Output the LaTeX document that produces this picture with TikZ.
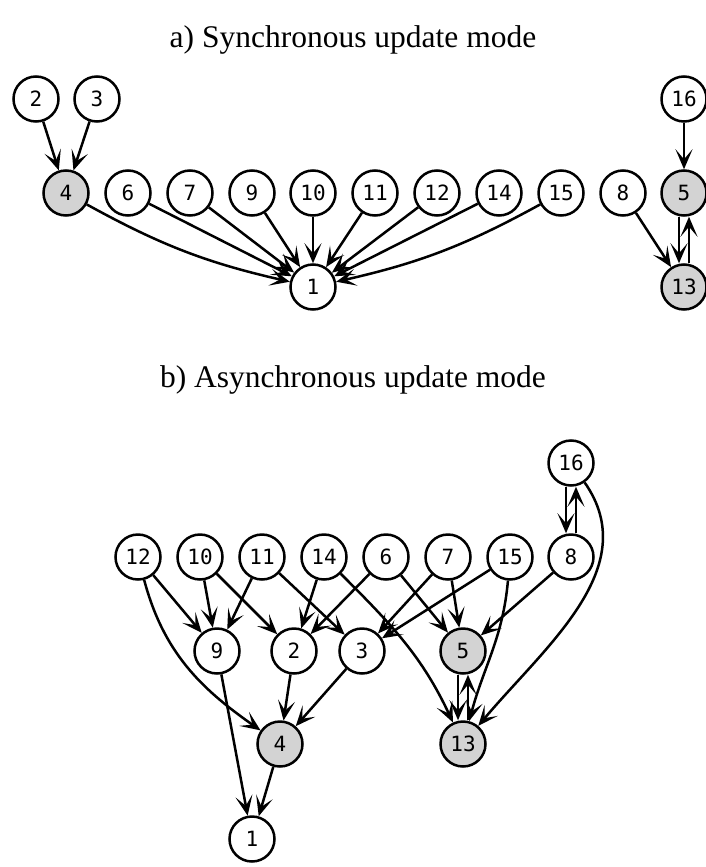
\documentclass[tikz,border=0pt]{standalone}
\usepackage{fontspec}
\setmainfont{Liberation Serif}
\newfontfamily\statefont{DejaVu Sans Mono}
\usetikzlibrary{arrows.meta}
\definecolor{hotgray}{RGB}{211,211,211}

\begin{document}
\begin{tikzpicture}[x=1pt, y=1pt,
    state/.style={circle, draw, line width=2.5pt, fill=white, minimum size=45pt,
      inner sep=0pt, font=\statefont\fontsize{21}{21}\selectfont},
    hot/.style={state, fill=hotgray},
    edge/.style={line width=2.5pt, -{Stealth[length=20pt, width=17pt, inset=10pt]}}]

        \useasboundingbox (0,0) rectangle (706,-867);

        %Titles
        \node (titlea) at (353,-40) {\fontsize{31.5}{31.5}\selectfont a) Synchronous update mode};
        \node (titleb) at (353,-380) {\fontsize{31.5}{31.5}\selectfont b) Asynchronous update mode};

        %a) States
        \node [state] (a2)  at (36,-99)   {2};
        \node [state] (a3)  at (97,-99)   {3};
        \node [hot]   (a4)  at (66,-193)  {4};
        \node [state] (a6)  at (128,-193) {6};
        \node [state] (a7)  at (190,-193) {7};
        \node [state] (a9)  at (252,-193) {9};
        \node [state] (a10) at (313,-193) {10};
        \node [state] (a11) at (375,-193) {11};
        \node [state] (a12) at (437,-193) {12};
        \node [state] (a14) at (499,-193) {14};
        \node [state] (a15) at (561,-193) {15};
        \node [state] (a8)  at (623,-193) {8};
        \node [hot]   (a5)  at (684,-193) {5};
        \node [state] (a16) at (684,-99)  {16};
        \node [hot]   (a13) at (684,-287) {13};
        \node [state] (a1)  at (313,-287) {1};
        %a) Edges
        \draw [edge] (a2) -- (a4);
        \draw [edge] (a3) -- (a4);
        \draw [edge] (a4) to[bend right=8] (a1);
        \draw [edge] (a6) -- (a1);
        \draw [edge] (a7) -- (a1);
        \draw [edge] (a9) -- (a1);
        \draw [edge] (a10) -- (a1);
        \draw [edge] (a11) -- (a1);
        \draw [edge] (a12) -- (a1);
        \draw [edge] (a14) -- (a1);
        \draw [edge] (a15) to[bend left=8] (a1);
        \draw [edge] (a16) -- (a5);
        \draw [edge] (a8) -- (a13);
        \draw [edge] ([xshift=-5pt]a5.south) -- ([xshift=-5pt]a13.north);
        \draw [edge] ([xshift=5pt]a13.north) -- ([xshift=5pt]a5.south);

        %b) States
        \node [state] (b16) at (571,-463) {16};
        \node [state] (b12) at (138,-557) {12};
        \node [state] (b10) at (200,-557) {10};
        \node [state] (b11) at (262,-557) {11};
        \node [state] (b14) at (324,-557) {14};
        \node [state] (b6)  at (386,-557) {6};
        \node [state] (b7)  at (448,-557) {7};
        \node [state] (b15) at (510,-557) {15};
        \node [state] (b8)  at (571,-557) {8};
        \node [state] (b9)  at (217,-651) {9};
        \node [state] (b2)  at (294,-651) {2};
        \node [state] (b3)  at (362,-651) {3};
        \node [hot]   (b5)  at (463,-651) {5};
        \node [hot]   (b4)  at (280,-744) {4};
        \node [hot]   (b13) at (463,-744) {13};
        \node [state] (b1)  at (252,-839) {1};
        %b) Edges
        \draw [edge] (b12) -- (b9);
        \draw [edge] (b12) to[out=-75, in=145] (b4);
        \draw [edge] (b10) -- (b9);
        \draw [edge] (b10) -- (b2);
        \draw [edge] (b11) -- (b9);
        \draw [edge] (b11) -- (b3);
        \draw [edge] (b14) -- (b2);
        \draw [edge] (b14) to[out=-45, in=115] (b13);
        \draw [edge] (b6) -- (b2);
        \draw [edge] (b6) -- (b5);
        \draw [edge] (b7) -- (b3);
        \draw [edge] (b7) -- (b5);
        \draw [edge] (b15) -- (b3);
        \draw [edge] (b15) to[out=-95, in=75] (b13);
        \draw [edge] (b8) -- (b5);
        \draw [edge] ([xshift=-5pt]b16.south) -- ([xshift=-5pt]b8.north);
        \draw [edge] ([xshift=5pt]b8.north) -- ([xshift=5pt]b16.south);
        \draw [edge] (b16) to[out=-55, in=50] (b13);
        \draw [edge] (b9) -- (b1);
        \draw [edge] (b2) -- (b4);
        \draw [edge] (b3) -- (b4);
        \draw [edge] (b4) -- (b1);
        \draw [edge] ([xshift=-5pt]b5.south) -- ([xshift=-5pt]b13.north);
        \draw [edge] ([xshift=5pt]b13.north) -- ([xshift=5pt]b5.south);
      \end{tikzpicture}
\end{document}
